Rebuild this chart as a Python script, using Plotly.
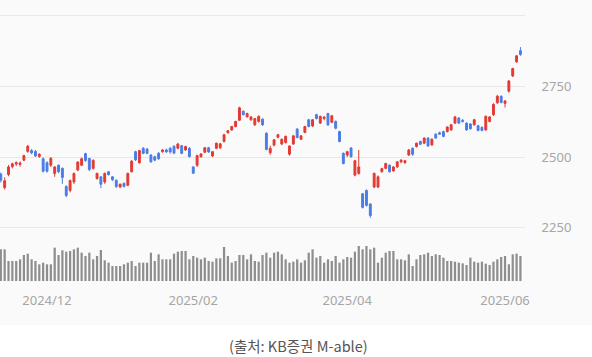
import plotly.graph_objects as go

dates = [
    "2024-11-14","2024-11-15","2024-11-18","2024-11-19","2024-11-20","2024-11-21","2024-11-22","2024-11-25","2024-11-26","2024-11-27","2024-11-28","2024-11-29",
    "2024-12-02","2024-12-03","2024-12-04","2024-12-05","2024-12-06","2024-12-09","2024-12-10","2024-12-11","2024-12-12","2024-12-13","2024-12-16","2024-12-17","2024-12-18","2024-12-19","2024-12-20","2024-12-23","2024-12-24","2024-12-26","2024-12-27","2024-12-30",
    "2025-01-02","2025-01-03","2025-01-06","2025-01-07","2025-01-08","2025-01-09","2025-01-10","2025-01-13","2025-01-14","2025-01-15","2025-01-16","2025-01-17","2025-01-20","2025-01-21","2025-01-22","2025-01-23","2025-01-24","2025-01-31",
    "2025-02-03","2025-02-04","2025-02-05","2025-02-06","2025-02-07","2025-02-10","2025-02-11","2025-02-12","2025-02-13","2025-02-14","2025-02-17","2025-02-18","2025-02-19","2025-02-20","2025-02-21","2025-02-24","2025-02-25","2025-02-26","2025-02-27","2025-02-28",
    "2025-03-04","2025-03-05","2025-03-06","2025-03-07","2025-03-10","2025-03-11","2025-03-12","2025-03-13","2025-03-14","2025-03-17","2025-03-18","2025-03-19","2025-03-20","2025-03-21","2025-03-24","2025-03-25","2025-03-26","2025-03-27","2025-03-28","2025-03-31",
    "2025-04-01","2025-04-02","2025-04-03","2025-04-04","2025-04-07","2025-04-08","2025-04-09","2025-04-10","2025-04-11","2025-04-14","2025-04-15","2025-04-16","2025-04-17","2025-04-18","2025-04-21","2025-04-22","2025-04-23","2025-04-24","2025-04-25","2025-04-28","2025-04-29","2025-04-30",
    "2025-05-02","2025-05-07","2025-05-08","2025-05-09","2025-05-12","2025-05-13","2025-05-14","2025-05-15","2025-05-16","2025-05-19","2025-05-20","2025-05-21","2025-05-22","2025-05-23","2025-05-26","2025-05-27","2025-05-28","2025-05-29","2025-05-30",
    "2025-06-02","2025-06-04","2025-06-05","2025-06-09","2025-06-10",
]

opens = [2440,2392,2438,2466,2475,2474,2489,2520,2523,2520,2502,2494,
         2480,2471,2442,2471,2460,2396,2382,2412,2454,2471,2512,2495,2460,2424,2430,2412,2448,2430,2418,2394,
         2407,2400,2448,2519,2480,2531,2528,2507,2501,2513,2519,2525,2531,2538,2531,2540,2525,2531,
         2465,2471,2501,2517,2533,2504,2531,2533,2555,2586,2596,2608,2630,2662,2642,2632,2614,2626,2634,2584,
         2515,2542,2570,2546,2551,2510,2546,2599,2563,2587,2632,2610,2650,2620,2636,2654,2623,2626,2590,2513,
         2507,2532,2436,2442,2370,2382,2334,2394,2394,2448,2460,2471,2451,2465,2483,2480,2507,2531,2537,2555,2549,2567,
         2543,2581,2586,2590,2590,2596,2620,2638,2630,2620,2617,2614,2611,2605,2596,2626,2650,2692,2715,
         2690,2733,2787,2837,2876]
highs = [2445,2428,2472,2480,2485,2484,2508,2543,2528,2525,2513,2498,
         2485,2500,2468,2474,2463,2400,2420,2445,2485,2498,2515,2497,2492,2445,2432,2445,2450,2433,2420,2406,
         2410,2445,2490,2522,2525,2535,2532,2510,2505,2518,2528,2530,2535,2542,2550,2543,2540,2535,
         2468,2508,2513,2535,2536,2521,2551,2549,2582,2595,2610,2628,2678,2665,2657,2645,2638,2647,2637,2588,
         2540,2563,2582,2565,2576,2541,2577,2602,2578,2610,2635,2634,2653,2646,2645,2657,2648,2629,2593,2516,
         2522,2535,2490,2525,2373,2385,2336,2445,2435,2462,2480,2474,2468,2486,2492,2490,2528,2534,2551,2558,2569,2570,
         2566,2584,2590,2593,2609,2617,2645,2641,2634,2623,2620,2635,2614,2608,2647,2645,2690,2720,2718,
         2702,2772,2816,2861,2889]
lows = [2410,2385,2432,2460,2468,2466,2485,2515,2510,2500,2497,2445,
        2445,2465,2430,2443,2405,2358,2375,2405,2450,2468,2483,2450,2455,2420,2390,2405,2434,2415,2390,2390,
        2392,2397,2445,2486,2476,2510,2510,2480,2485,2490,2515,2515,2512,2510,2528,2510,2522,2498,
        2440,2465,2498,2514,2515,2500,2528,2528,2552,2583,2593,2605,2628,2647,2640,2628,2610,2622,2610,2524,
        2508,2538,2566,2542,2548,2505,2543,2566,2560,2584,2605,2606,2633,2617,2630,2610,2620,2598,2552,2474,
        2500,2498,2432,2438,2318,2325,2285,2390,2390,2445,2457,2445,2448,2462,2478,2476,2504,2504,2534,2543,2546,2536,
        2540,2565,2578,2570,2587,2593,2617,2617,2622,2593,2597,2611,2591,2591,2593,2623,2645,2688,2690,
        2675,2728,2783,2833,2858]
closes = [2418,2416,2465,2476,2480,2479,2505,2538,2515,2504,2510,2450,
          2450,2495,2465,2448,2428,2364,2417,2442,2482,2494,2488,2456,2488,2442,2404,2442,2438,2420,2396,2404,
          2396,2442,2485,2490,2523,2513,2513,2483,2489,2494,2525,2518,2518,2514,2546,2513,2537,2502,
          2443,2505,2511,2533,2518,2519,2549,2547,2579,2593,2608,2626,2674,2650,2654,2642,2636,2644,2614,2527,
          2531,2561,2579,2563,2573,2539,2575,2569,2575,2608,2608,2632,2636,2644,2641,2614,2646,2602,2555,2477,
          2519,2501,2487,2465,2322,2329,2293,2442,2430,2459,2477,2448,2465,2483,2489,2487,2525,2510,2549,2545,2567,2539,
          2563,2567,2581,2573,2606,2614,2642,2620,2626,2596,2600,2632,2594,2594,2644,2642,2686,2715,2693,
          2698,2769,2813,2858,2863]
volumes = [475,475,300,300,300,325,390,410,325,300,
           250,275,250,250,500,390,460,440,450,475,
           500,425,375,425,325,375,465,310,275,225,
           225,225,250,275,300,225,275,275,275,425,
           300,400,325,325,325,410,440,450,450,325,
           375,350,325,350,300,290,340,340,510,375,
           275,300,390,390,325,400,300,290,390,425,
           350,425,440,400,325,
           275,290,325,275,310,425,475,350,375,275,
           325,300,375,275,325,360,350,440,525,475,
           525,475,500,275,350,425,450,450,325,325,
           310,400,225,325,390,400,425,375,400,390,
           350,300,300,290,275,265,240,350,290,275,
           290,260,240,290,325,360,375,250,400,410,
           375]

tick_dates = ["2024-12-02", "2025-02-03", "2025-04-01", "2025-06-02"]
tick_labels = ["2024/12", "2025/02", "2025/04", "2025/06"]
price_ticks = [2250, 2500, 2750, 3000]
price_labels = ["2250", "2500", "2750", ""]

RED = "#e23a32"
BLUE = "#4a7de6"
GRAY = "#8e8e8e"
TICK = "#a6a6a6"
GRID = "#e8e8e8"

fig = go.Figure()
fig.add_trace(go.Candlestick(
    x=dates, open=opens, high=highs, low=lows, close=closes,
    increasing=dict(line=dict(color=RED, width=1), fillcolor=RED),
    decreasing=dict(line=dict(color=BLUE, width=1), fillcolor=BLUE),
    whiskerwidth=0, yaxis="y", xaxis="x", showlegend=False, hoverinfo="skip",
))
fig.add_trace(go.Bar(
    x=dates, y=volumes, marker=dict(color=GRAY, line=dict(width=0)),
    yaxis="y2", xaxis="x", showlegend=False, hoverinfo="skip",
))

H_PLOT = 281
fig.update_layout(
    width=592, height=357,
    margin=dict(l=0, r=67, t=0, b=76),
    paper_bgcolor="#fafafa", plot_bgcolor="rgba(0,0,0,0)",
    bargap=0.42, boxgap=0.3,
    font=dict(family="Noto Sans, Noto Sans CJK KR, sans-serif", size=13, color=TICK),
    xaxis=dict(
        type="category", range=[-0.21, 136.19], anchor="y2",
        tickvals=tick_dates, ticktext=tick_labels,
        showgrid=False, zeroline=False, showline=False,
        ticks="outside", ticklen=7, tickcolor="rgba(0,0,0,0)",
        rangeslider=dict(visible=False),
        tickfont=dict(size=13, color=TICK),
    ),
    yaxis=dict(
        domain=[41 / H_PLOT, 1], range=[2206.5, 3055.5], side="right",
        tickvals=price_ticks, ticktext=price_labels,
        showgrid=True, gridcolor=GRID, gridwidth=1, zeroline=False, showline=False,
        ticks="outside", ticklen=13, tickcolor="rgba(0,0,0,0)",
        tickfont=dict(size=13, color=TICK),
    ),
    yaxis2=dict(
        domain=[0, 37 / H_PLOT], range=[0, 555],
        showgrid=False, zeroline=False, showline=False, showticklabels=False,
    ),
    shapes=[dict(
        type="rect", xref="paper", yref="paper",
        x0=-0.1, x1=1.3, y0=(H_PLOT - 325) / H_PLOT, y1=-0.4,
        fillcolor="white", line=dict(width=0), layer="below",
    )],
    annotations=[dict(
        text="(출처: KB증권 M-able)", xref="paper", yref="paper",
        x=298 / 525, y=(H_PLOT - 345) / H_PLOT, xanchor="center", yanchor="middle",
        showarrow=False, font=dict(family="Noto Sans CJK KR, sans-serif", size=14.5, color="#555555"),
    )],
)

fig.write_html("out.html")
